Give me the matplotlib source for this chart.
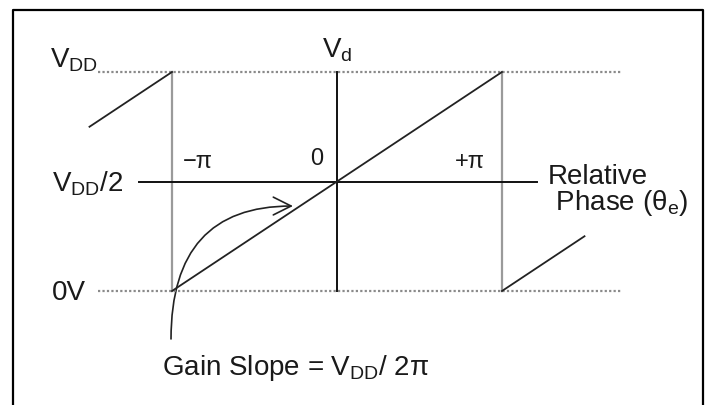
import matplotlib
matplotlib.use('Agg')
import matplotlib.pyplot as plt
from matplotlib.patches import FancyArrowPatch
from matplotlib.lines import Line2D

plt.rcParams['font.family'] = ['Liberation Sans', 'DejaVu Sans']
plt.rcParams['mathtext.fontset'] = 'custom'
plt.rcParams['mathtext.rm'] = 'Liberation Sans'
plt.rcParams['mathtext.it'] = 'Liberation Sans:italic'

# phase in units of pi, voltage in units of VDD
ramp_main_x = [-1.0, 1.0]
ramp_main_y = [0.0, 1.0]
ramp_left_x = [-1.5, -1.0]
ramp_left_y = [0.75, 1.0]
ramp_right_x = [1.0, 1.5]
ramp_right_y = [0.0, 0.25]
rail_levels = [0.0, 1.0]
rail_span = [-1.45, 1.73]
half_level = 0.5
half_span = [-1.2, 1.21]
phase_marks = [-1.0, 1.0]
arrow_start = (-1.006, -0.219)
arrow_end = (-0.267, 0.388)

fig = plt.figure(figsize=(7.08, 4.06), dpi=100)
ax = fig.add_axes([0, 0, 1, 1])
ax.set_xlim(-337 / 165, (708 - 337) / 165)
ax.set_ylim(-(406 - 292) / 219, 1 + 73 / 219)
ax.axis('off')

# frame round the figure (open at the bottom)
fig.add_artist(Line2D([12.7 / 708, 12.7 / 708, 703 / 708, 703 / 708],
                      [0, 1 - 11 / 406, 1 - 11 / 406, 0],
                      transform=fig.transFigure, color='black', lw=1.6))

for lvl in rail_levels:
    ax.plot(rail_span, [lvl, lvl], color='#8a8a8a', lw=1.6, ls=(0, (1, 1)))
for xm in phase_marks:
    ax.plot([xm, xm], [0, 1], color='#9a9a9a', lw=1.6)
ax.plot([0, 0], [0, 1], color='#111111', lw=1.4)
ax.plot(half_span, [half_level, half_level], color='#111111', lw=1.4)

for xs, ys in [(ramp_main_x, ramp_main_y), (ramp_left_x, ramp_left_y),
               (ramp_right_x, ramp_right_y)]:
    ax.plot(xs, ys, color='#222222', lw=1.3)

arrow = FancyArrowPatch(arrow_start, arrow_end,
                        connectionstyle='angle3,angleA=90,angleB=0',
                        arrowstyle='->,head_length=0.8,head_width=0.4',
                        mutation_scale=16, color='#222222', lw=1.2,
                        shrinkA=0, shrinkB=0)
ax.add_patch(arrow)

tc = '#1a1a1a'
big = 20
small = 17
ax.text(-1.739, 1.027, r'V$_\mathregular{DD}$', fontsize=big, color=tc,
        ha='left', va='baseline')
ax.text(-1.727, 0.461, r'V$_\mathregular{DD}$/2', fontsize=big, color=tc,
        ha='left', va='baseline')
ax.text(-1.727, -0.037, '0V', fontsize=big, color=tc, ha='left', va='baseline')
ax.text(-0.091, 1.073, r'V$_\mathregular{d}$', fontsize=big, color=tc,
        ha='left', va='baseline')
ax.text(-0.842, 0.566, '\u2212\u03c0', fontsize=small, color=tc,
        ha='center', va='baseline')
ax.text(-0.124, 0.580, '0', fontsize=small, color=tc, ha='center', va='baseline')
ax.text(0.806, 0.566, '+\u03c0', fontsize=small, color=tc,
        ha='center', va='baseline')
ax.text(1.279, 0.374, 'Relative\n Phase (θ$_\\mathregular{e}$)', fontsize=big,
        color=tc, ha='left', va='baseline', linespacing=0.93)
ax.text(-1.061, -0.379, r'Gain Slope = V$_\mathregular{DD}$/ 2π', fontsize=big,
        color=tc, ha='left', va='baseline')

fig.savefig('out.png', dpi=100)
